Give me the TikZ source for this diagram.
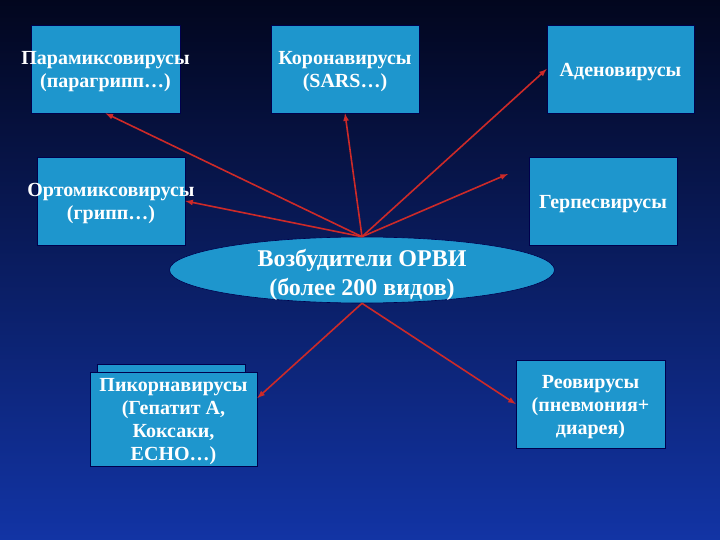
\documentclass[tikz,border=0pt]{standalone}
\usepackage{fontspec}
\setmainfont{Liberation Serif}
\usepackage{tikz}
\usetikzlibrary{arrows}
\usetikzlibrary{shapes}
\definecolor{boxblue}{RGB}{30,150,205}
\definecolor{arrowred}{RGB}{205,42,40}
\definecolor{slidetop}{RGB}{2,6,30}
\definecolor{slidemid}{RGB}{10,38,130}
\definecolor{slidebottom}{RGB}{18,52,165}
\tikzstyle{virus}=[rectangle, fill=boxblue, draw=blue!30!black, line width=0.6pt, inner sep=0pt]
\tikzstyle{virustext}=[text=white, font=\bfseries\fontsize{20}{23}\selectfont, align=center, inner sep=0pt, yshift=-3pt]
\tikzstyle{spoke}=[draw=arrowred, line width=1.6pt, -latex]
\newcommand{\virusBox}[5]{
	\node[virus, minimum width=#3, minimum height=#4] (#1) at #2 {};
	\node[virustext] (#1text) at (#1) {#5};
}

\begin{document}
\begin{tikzpicture}[x=1pt,y=-1pt]
	\shade[top color=slidetop, middle color=slidemid, bottom color=slidebottom] (0,0) rectangle (720,540);
	\virusBox{para}{(105.5,69)}{149pt}{88pt}{Парамиксовирусы\\(парагрипп…)}
	\virusBox{corona}{(345,69)}{148pt}{88pt}{Коронавирусы\\(SARS…)}
	\virusBox{adeno}{(620.5,69)}{147pt}{88pt}{Аденовирусы}
	\virusBox{ortho}{(111,201)}{148pt}{88pt}{Ортомиксовирусы\\(грипп…)}
	\virusBox{herpes}{(603,201)}{148pt}{88pt}{Герпесвирусы}
	\virusBox{reo}{(590.5,404)}{149pt}{88pt}{Реовирусы\\(пневмония+\\диарея)}
	\node[virus, minimum width=148pt, minimum height=80pt] (pikornBack) at (171,404) {};
	\virusBox{pikorn}{(173.5,419)}{167pt}{94pt}{Пикорнавирусы\\(Гепатит А,\\Коксаки,\\ЕСНО…)}
	\node[ellipse, fill=boxblue, draw=blue!30!black, line width=0.6pt, minimum width=385pt, minimum height=66pt] (orvi) at (362,270) {};
	\node[virustext, font=\bfseries\fontsize{24}{29}\selectfont] (orvitext) at (362,272) {Возбудители ОРВИ\\(более 200 видов)};
	\coordinate (herpTip) at (508,174);
	\draw[spoke] (orvi.north) -- (para.south);
	\draw[spoke] (orvi.north) -- (corona.south);
	\draw[spoke] (orvi.north) -- (adeno.west);
	\draw[spoke] (orvi.north) -- (ortho.east);
	\draw[spoke] (orvi.north) -- (herpTip);
	\draw[spoke] (orvi.south) -- (pikorn.14);
	\draw[spoke] (orvi.south) -- (reo.west);
\end{tikzpicture}
\end{document}
